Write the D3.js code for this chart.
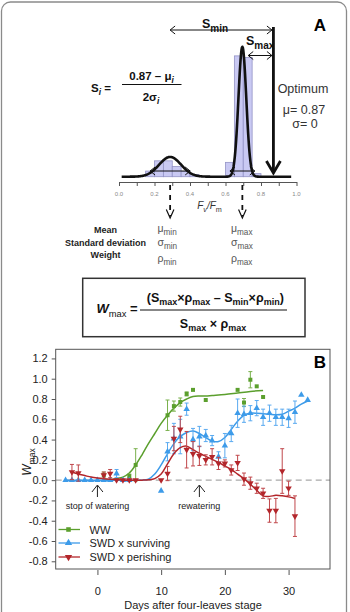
<!DOCTYPE html>
<html>
<head>
<meta charset="utf-8">
<script src="https://d3js.org/d3.v7.min.js"></script>
<style>
  body { margin: 0; background: #fff; }
  svg { display: block; font-family: "Liberation Sans", Arial, sans-serif; }
</style>
</head>
<body>
<svg id="fig" width="350" height="612"></svg>
<script>
// ---- panel A : Fv/Fm distribution ----
var histBinStart = [0.15, 0.20, 0.25, 0.30, 0.35, 0.40, 0.60, 0.65, 0.70, 0.75];
var histDensity  = [0.55, 1.55, 1.55, 1.0, 0.5, 0.2, 1.4, 11.8, 11.65, 0.3];
var histBinWidth = 0.05;
var fitMeans   = [0.288, 0.695];
var fitSds     = [0.062, 0.022];
var fitWeights = [0.3, 0.7];
var spreadHalf = [0.113, 0.07];
var optimum = 0.87;
var fvTicks = [0, 0.1, 0.2, 0.3, 0.4, 0.5, 0.6, 0.7, 0.8, 0.9, 1.0];
var fvLabels = [0, 0.2, 0.4, 0.6, 0.8, 1.0];

// ---- panel B : Wmax over time ----
var wwDays = [1, 5, 6, 11, 12, 13, 14, 15, 17, 22, 23, 24, 25, 26];
var wwMean = [0.05, 0.04, 0.15, 0.64, 0.73, 0.77, 0.85, 0.89, 0.79, 0.89, 0.765, 0.99, 0.925, 0.82];
var wwErr  = [0.03, 0.02, 0.16, 0.15, 0.05, 0.04, 0.02, 0, 0, 0, 0.04, 0.08, 0, 0];
var wwFitDays = [1, 2, 3, 4, 5, 6, 7, 8, 9, 10, 11, 12, 13, 14, 15, 16, 17, 18, 20, 22, 24, 26];
var wwFit = [0, 0.005, 0.015, 0.03, 0.07, 0.15, 0.25, 0.36, 0.46, 0.56, 0.64, 0.71, 0.765, 0.80, 0.825, 0.83, 0.83, 0.835, 0.845, 0.86, 0.875, 0.885];

var survDays = [-5, -4, -3, -2, -1, 0, 1, 2, 3, 4, 5, 10, 11, 12, 13, 14, 15, 16, 17, 18, 19, 20, 21, 22, 23, 24, 25, 26, 27, 28, 29, 30, 31, 32, 33];
var survMean = [0, 0, 0, 0, 0, 0, 0, 0, 0.065, 0, 0, -0.105, 0.28, 0.41, 0.43, 0.70, 0.40, 0.43, 0.44, 0.39, 0.23, 0.34, 0.46, 0.66, 0.65, 0.66, 0.71, 0.62, 0.66, 0.62, 0.62, 0.61, 0.67, 0.84, 0.79];
var survErr  = [0, 0, 0, 0, 0, 0, 0, 0, 0.04, 0, 0, 0, 0.09, 0.15, 0.17, 0.06, 0.11, 0.1, 0.06, 0.05, 0.05, 0.12, 0.08, 0.14, 0.08, 0.075, 0.075, 0.08, 0.08, 0.08, 0.08, 0.09, 0.11, 0, 0];
var survFitDays = [-5, -4, -3, -2, -1, 0, 1, 2, 3, 4, 5, 6, 7, 8, 9, 10, 11, 12, 13, 14, 15, 16, 17, 18, 19, 20, 21, 22, 23, 24, 25, 26, 27, 28, 29, 30, 31, 32, 33];
var survFit = [0, 0, 0, 0, 0, 0, 0, 0, 0, 0, 0, 0, 0, 0.01, 0.06, 0.15, 0.26, 0.36, 0.43, 0.47, 0.485, 0.46, 0.42, 0.385, 0.38, 0.42, 0.50, 0.58, 0.64, 0.66, 0.66, 0.655, 0.65, 0.645, 0.65, 0.68, 0.71, 0.75, 0.78];

var perDays = [-4, -3, 1, 2, 3, 4, 5, 6, 10, 11, 12, 13, 14, 15, 16, 17, 18, 19, 20, 21, 22, 23, 24, 25, 26, 27, 28, 29, 30, 31];
var perMean = [0.08, 0.07, 0.05, 0.065, 0, 0, 0, 0, 0, 0.065, 0.41, 0.50, 0.30, 0.26, 0.24, 0.20, 0.23, 0.165, 0.165, 0.10, 0.17, 0.01, -0.03, -0.08, -0.13, -0.30, -0.30, 0.09, -0.08, -0.355];
var perErr  = [0.075, 0.08, 0.03, 0.04, 0, 0, 0, 0, 0, 0.07, 0.12, 0.13, 0.18, 0.12, 0.095, 0.05, 0.08, 0.06, 0.035, 0.05, 0.075, 0.06, 0.06, 0.05, 0.05, 0.115, 0.12, 0.22, 0.07, 0.2];
var perFitDays = [-4, -3, -2, -1, 0, 1, 2, 3, 4, 5, 6, 7, 8, 9, 10, 11, 12, 13, 14, 15, 16, 17, 18, 19, 20, 21, 22, 23, 24, 25, 26, 27, 28, 29, 30, 31];
var perFit = [0.08, 0.06, 0.045, 0.03, 0.02, 0.013, 0.008, 0.005, 0.002, 0, 0, 0, 0.003, 0.015, 0.06, 0.16, 0.26, 0.32, 0.335, 0.30, 0.265, 0.235, 0.205, 0.175, 0.14, 0.105, 0.06, 0.015, -0.04, -0.10, -0.155, -0.16, -0.15, -0.155, -0.165, -0.18];

var seriesNames = ["WW", "SWD x surviving", "SWD x perishing"];
var yTicks = [-0.8, -0.6, -0.4, -0.2, 0, 0.2, 0.4, 0.6, 0.8, 1.0, 1.2];
var xTicks = [0, 10, 20, 30];
var stopDay = 0, rewaterDay = 16;

var svg = d3.select("#fig");

// text with sub-scripts
function rich(sel, x, y, parts, o) {
  var t = sel.append("text").attr("x", x).attr("y", y)
    .attr("text-anchor", o.anchor || "start")
    .attr("font-size", o.size)
    .attr("font-weight", o.weight || "normal")
    .attr("fill", o.fill || "#111");
  var shifted = 0;
  parts.forEach(function (p) {
    var s = t.append("tspan").text(p.t);
    var want = p.sub ? o.size * 0.3 : 0;
    if (want !== shifted) { s.attr("dy", want - shifted); shifted = want; }
    if (p.sub) s.attr("font-size", o.size * (o.subScale || 0.72));
    if (p.it) s.attr("font-style", "italic");
    if (p.w) s.attr("font-weight", p.w);
  });
  return t;
}

function chevron(sel, x, y, dx, dy, w) {
  sel.append("path")
    .attr("d", "M" + (x - dx) + "," + (y - dy) + "L" + x + "," + y + "L" + (x + dx) + "," + (y + dy))
    .attr("fill", "none").attr("stroke", "#111").attr("stroke-width", w || 1);
}

function hArrow(sel, x1, x2, y) {
  sel.append("line").attr("x1", x1).attr("x2", x2).attr("y1", y).attr("y2", y)
    .attr("stroke", "#111").attr("stroke-width", 1);
  sel.append("path").attr("d", "M" + (x1 + 5) + "," + (y - 4) + "L" + x1 + "," + y + "L" + (x1 + 5) + "," + (y + 4))
    .attr("fill", "none").attr("stroke", "#111");
  sel.append("path").attr("d", "M" + (x2 - 5) + "," + (y - 4) + "L" + x2 + "," + y + "L" + (x2 - 5) + "," + (y + 4))
    .attr("fill", "none").attr("stroke", "#111");
}

// outer frame
svg.append("rect").attr("x", 1.5).attr("y", 2).attr("width", 345).attr("height", 640)
  .attr("rx", 9).attr("fill", "none").attr("stroke", "#8a8a8a").attr("stroke-width", 1.3);

// ================= panel A =================
var gA = svg.append("g");
var xA = d3.scaleLinear().domain([0, 1]).range([119, 296.5]);
var yA = d3.scaleLinear().domain([0, 13]).range([176.7, 43.6]);

gA.selectAll("rect.bin")
  .data(histBinStart.map(function (b, i) { return { b: b, v: histDensity[i] }; }))
  .enter().append("rect").attr("class", "bin")
  .attr("x", function (d) { return xA(d.b); })
  .attr("width", function (d) { return xA(d.b + histBinWidth) - xA(d.b); })
  .attr("y", function (d) { return yA(d.v); })
  .attr("height", function (d) { return yA(0) - yA(d.v); })
  .attr("fill", "#c9c9f3").attr("stroke", "#9393c6").attr("stroke-width", 0.8);

// fitted mixture of the two gaussians
function mixture(v) {
  var s = 0;
  for (var k = 0; k < fitMeans.length; k++) {
    var z = (v - fitMeans[k]) / fitSds[k];
    s += fitWeights[k] * Math.exp(-0.5 * z * z) / (fitSds[k] * Math.sqrt(2 * Math.PI));
  }
  return s;
}
var curvePts = d3.range(0.015, 0.9701, 0.0025).map(function (v) { return [v, mixture(v)]; });
gA.append("path").datum(curvePts)
  .attr("d", d3.line().x(function (d) { return xA(d[0]); }).y(function (d) { return yA(d[1]); }))
  .attr("fill", "none").attr("stroke", "#111").attr("stroke-width", 2.6)
  .attr("stroke-linejoin", "round");

// spread arrows at the peaks
fitMeans.forEach(function (m, i) {
  hArrow(gA, xA(m - spreadHalf[i]), xA(m + spreadHalf[i]), 171);
});

// axis Fv/Fm
var axA = d3.axisBottom(xA).tickValues(fvTicks).tickSize(4).tickSizeOuter(0).tickFormat("");
var axAg = gA.append("g").attr("transform", "translate(0,182)").call(axA);
axAg.select(".domain").attr("stroke", "#555");
axAg.selectAll(".tick line").attr("stroke", "#555");
gA.selectAll("text.fvlab").data(fvLabels).enter().append("text").attr("class", "fvlab")
  .attr("x", function (d) { return xA(d); }).attr("y", 196)
  .attr("text-anchor", "middle").attr("font-size", 6).attr("fill", "#8a8a8a")
  .text(function (d) { return d.toFixed(1); });

rich(gA, 209.5, 208.5, [{ t: "F", it: 1 }, { t: "v", sub: 1, it: 1 }, { t: "/F", it: 1 }, { t: "m", sub: 1 }],
  { size: 10, anchor: "middle", fill: "#333" });

// dashed drop lines from the means
fitMeans.forEach(function (m) {
  var x = xA(m);
  gA.append("line").attr("x1", x).attr("x2", x).attr("y1", 185).attr("y2", 216)
    .attr("stroke", "#111").attr("stroke-width", 1.8).attr("stroke-dasharray", "5,5");
  gA.append("path").attr("d", "M" + (x - 3.8) + ",209.5L" + x + ",218L" + (x + 3.8) + ",209.5")
    .attr("fill", "none").attr("stroke", "#111").attr("stroke-width", 1.2);
});

// optimum arrow
var xo = xA(optimum);
gA.append("line").attr("x1", xo).attr("x2", xo).attr("y1", 27).attr("y2", 172)
  .attr("stroke", "#111").attr("stroke-width", 2.8);
gA.append("path").attr("d", "M" + (xo - 7) + ",161L" + xo + ",173L" + (xo + 7) + ",161")
  .attr("fill", "none").attr("stroke", "#111").attr("stroke-width", 2.8);

hArrow(gA, xA(fitMeans[0]), xo - 1.5, 30);
hArrow(gA, xA(fitMeans[1] + 0.033), xo - 1.5, 55.5);

rich(gA, 202, 28, [{ t: "S" }, { t: "min", sub: 1 }], { size: 12.5, weight: "bold", subScale: 0.8 });
rich(gA, 246, 45, [{ t: "S" }, { t: "max", sub: 1 }], { size: 12.5, weight: "bold", subScale: 0.8 });

gA.append("text").attr("x", 320).attr("y", 31).attr("text-anchor", "middle")
  .attr("font-size", 17).attr("font-weight", "bold").text("A");

gA.append("text").attr("x", 303).attr("y", 93).attr("text-anchor", "middle")
  .attr("font-size", 12.5).attr("fill", "#333").text("Optimum");
gA.append("text").attr("x", 304).attr("y", 113.5).attr("text-anchor", "middle")
  .attr("font-size", 12.5).attr("fill", "#333").text("\u03bc= 0.87");
gA.append("text").attr("x", 305).attr("y", 128).attr("text-anchor", "middle")
  .attr("font-size", 12.5).attr("fill", "#333").text("\u03c3= 0");

// S_i formula
rich(gA, 91, 92, [{ t: "S" }, { t: "i", sub: 1, it: 1 }, { t: " =" }], { size: 11.5, weight: "bold" });
rich(gA, 151.5, 80, [{ t: "0.87 \u2013 \u03bc" }, { t: "i", sub: 1, it: 1 }], { size: 11.5, weight: "bold", anchor: "middle" });
rich(gA, 151, 100.5, [{ t: "2\u03c3" }, { t: "i", sub: 1, it: 1 }], { size: 11.5, weight: "bold", anchor: "middle" });
gA.append("line").attr("x1", 122).attr("x2", 181.5).attr("y1", 84.5).attr("y2", 84.5)
  .attr("stroke", "#111").attr("stroke-width", 1.1);

// parameter table
[["Mean", 232.5], ["Standard deviation", 245.5], ["Weight", 257.5]].forEach(function (r) {
  gA.append("text").attr("x", 105.5).attr("y", r[1]).attr("text-anchor", "middle")
    .attr("font-size", 9).attr("font-weight", "bold").attr("fill", "#222").text(r[0]);
});
[["\u03bc", 232], ["\u03c3", 245.5], ["\u03c1", 261.5]].forEach(function (r) {
  rich(gA, 157.5, r[1], [{ t: r[0] }, { t: "min", sub: 1 }], { size: 10.5, fill: "#555", subScale: 0.78 });
  rich(gA, 231, r[1], [{ t: r[0] }, { t: "max", sub: 1 }], { size: 10.5, fill: "#555", subScale: 0.78 });
});

// W_max formula box
gA.append("rect").attr("x", 82.7).attr("y", 278.3).attr("width", 222.3).attr("height", 58.4)
  .attr("fill", "none").attr("stroke", "#333").attr("stroke-width", 1.5);
rich(gA, 96.5, 313, [{ t: "W", it: 1 }, { t: "max", sub: 1, w: "normal" }, { t: " =" }], { size: 13, weight: "bold" });
rich(gA, 215.3, 301.5, [{ t: "(S" }, { t: "max", sub: 1 }, { t: "\u00d7\u03c1" }, { t: "max", sub: 1 },
  { t: " \u2013 S" }, { t: "min", sub: 1 }, { t: "\u00d7\u03c1" }, { t: "min", sub: 1 }, { t: ")" }],
  { size: 12.5, weight: "bold", anchor: "middle" });
rich(gA, 213, 327.5, [{ t: "S" }, { t: "max", sub: 1 }, { t: " \u00d7 \u03c1" }, { t: "max", sub: 1 }],
  { size: 12.5, weight: "bold", anchor: "middle" });
gA.append("line").attr("x1", 140).attr("x2", 287).attr("y1", 310).attr("y2", 310)
  .attr("stroke", "#111").attr("stroke-width", 1);

// ================= panel B =================
var gB = svg.append("g");
var box = { left: 55.7, top: 349.3, right: 330, bottom: 569 };
var xB = d3.scaleLinear().domain([-6.55, 36.5]).range([box.left, box.right]);
var yB = d3.scaleLinear().domain([-0.876, 1.29]).range([box.bottom, box.top]);

var colors = ["#5b9f2d", "#3d9be9", "#b3262b"];
var errColors = ["#79b04c", "#5aaaf0", "#c0474b"];

gB.append("line").attr("x1", box.left).attr("x2", box.right)
  .attr("y1", yB(0)).attr("y2", yB(0))
  .attr("stroke", "#a9a9a9").attr("stroke-width", 1.2).attr("stroke-dasharray", "6,4");

var series = [
  { days: wwDays, mean: wwMean, err: wwErr, fd: wwFitDays, fit: wwFit, sym: d3.symbolSquare, size: 16, rot: 0 },
  { days: survDays, mean: survMean, err: survErr, fd: survFitDays, fit: survFit, sym: d3.symbolTriangle, size: 18, rot: 0 },
  { days: perDays, mean: perMean, err: perErr, fd: perFitDays, fit: perFit, sym: d3.symbolTriangle, size: 18, rot: 180 }
];

var fitLine = d3.line()
  .x(function (d) { return xB(d[0]); })
  .y(function (d) { return yB(d[1]); })
  .curve(d3.curveCatmullRom.alpha(0.5));

series.forEach(function (s, i) {
  var g = gB.append("g");
  g.append("path").datum(s.fd.map(function (d, k) { return [d, s.fit[k]]; }))
    .attr("d", fitLine).attr("fill", "none").attr("stroke", colors[i]).attr("stroke-width", 1.5);

  var pts = s.days.map(function (d, k) { return { d: d, m: s.mean[k], e: s.err[k] }; });
  var eb = g.selectAll("g.eb").data(pts.filter(function (p) { return p.e > 0; }))
    .enter().append("g").attr("class", "eb")
    .attr("stroke", errColors[i]).attr("stroke-width", 1);
  eb.append("line")
    .attr("x1", function (p) { return xB(p.d); }).attr("x2", function (p) { return xB(p.d); })
    .attr("y1", function (p) { return yB(p.m - p.e); }).attr("y2", function (p) { return yB(p.m + p.e); });
  [1, -1].forEach(function (sg) {
    eb.append("line")
      .attr("x1", function (p) { return xB(p.d) - 2; }).attr("x2", function (p) { return xB(p.d) + 2; })
      .attr("y1", function (p) { return yB(p.m + sg * p.e); }).attr("y2", function (p) { return yB(p.m + sg * p.e); });
  });

  g.selectAll("path.pt").data(pts).enter().append("path").attr("class", "pt")
    .attr("d", d3.symbol().type(s.sym).size(s.size))
    .attr("transform", function (p) { return "translate(" + xB(p.d) + "," + yB(p.m) + ") rotate(" + s.rot + ")"; })
    .attr("fill", colors[i]);
});

// frame and axes
gB.append("rect").attr("x", box.left).attr("y", box.top)
  .attr("width", box.right - box.left).attr("height", box.bottom - box.top)
  .attr("fill", "none").attr("stroke", "#555").attr("stroke-width", 1);

var yAxis = d3.axisLeft(yB).tickValues(yTicks).tickSize(4).tickPadding(4)
  .tickFormat(function (d) { return d.toFixed(1); });
var yg = gB.append("g").attr("transform", "translate(" + box.left + ",0)").call(yAxis);
yg.select(".domain").remove();
yg.selectAll(".tick line").attr("stroke", "#555");
yg.selectAll("text").attr("font-size", 11).attr("fill", "#222").attr("font-family", null);

var xAxis = d3.axisBottom(xB).tickValues(xTicks).tickSize(5).tickPadding(12);
var xg = gB.append("g").attr("transform", "translate(0," + (box.bottom + 1) + ")").call(xAxis);
xg.select(".domain").remove();
xg.selectAll(".tick line").attr("stroke", "#555");
xg.selectAll("text").attr("font-size", 11).attr("fill", "#222").attr("font-family", null);

gB.append("text").attr("x", 193).attr("y", 608.5).attr("text-anchor", "middle")
  .attr("font-size", 11).attr("fill", "#222").text("Days after four-leaves stage");

var yTitle = rich(gB, 0, 0, [{ t: "W", it: 1 }, { t: "max", sub: 1 }], { size: 12, anchor: "middle", fill: "#222" });
yTitle.attr("transform", "translate(31,462) rotate(-90)");

gB.append("text").attr("x", 320).attr("y", 368).attr("text-anchor", "middle")
  .attr("font-size", 17).attr("font-weight", "bold").text("B");

// annotations
[[stopDay, "stop of watering"], [rewaterDay, "rewatering"]].forEach(function (a) {
  var x = xB(a[0]);
  gB.append("line").attr("x1", x).attr("x2", x).attr("y1", 485.5).attr("y2", 497)
    .attr("stroke", "#222").attr("stroke-width", 1);
  gB.append("path").attr("d", "M" + (x - 5.5) + ",492L" + x + ",485L" + (x + 5.5) + ",492")
    .attr("fill", "none").attr("stroke", "#222").attr("stroke-width", 1);
  gB.append("text").attr("x", x).attr("y", 508.5).attr("text-anchor", "middle")
    .attr("font-size", 9).attr("fill", "#222").text(a[1]);
});

// legend
var legY = [529.5, 543, 557];
seriesNames.forEach(function (name, i) {
  var y = legY[i];
  gB.append("line").attr("x1", 58.5).attr("x2", 80).attr("y1", y).attr("y2", y)
    .attr("stroke", colors[i]).attr("stroke-width", 1.3);
  gB.append("path").attr("d", d3.symbol().type(series[i].sym).size(series[i].size * 1.3))
    .attr("transform", "translate(68.5," + y + ") rotate(" + series[i].rot + ")")
    .attr("fill", colors[i]);
  gB.append("text").attr("x", 89.5).attr("y", y + 4).attr("font-size", 11)
    .attr("fill", "#222").text(name);
});
</script>
</body>
</html>
